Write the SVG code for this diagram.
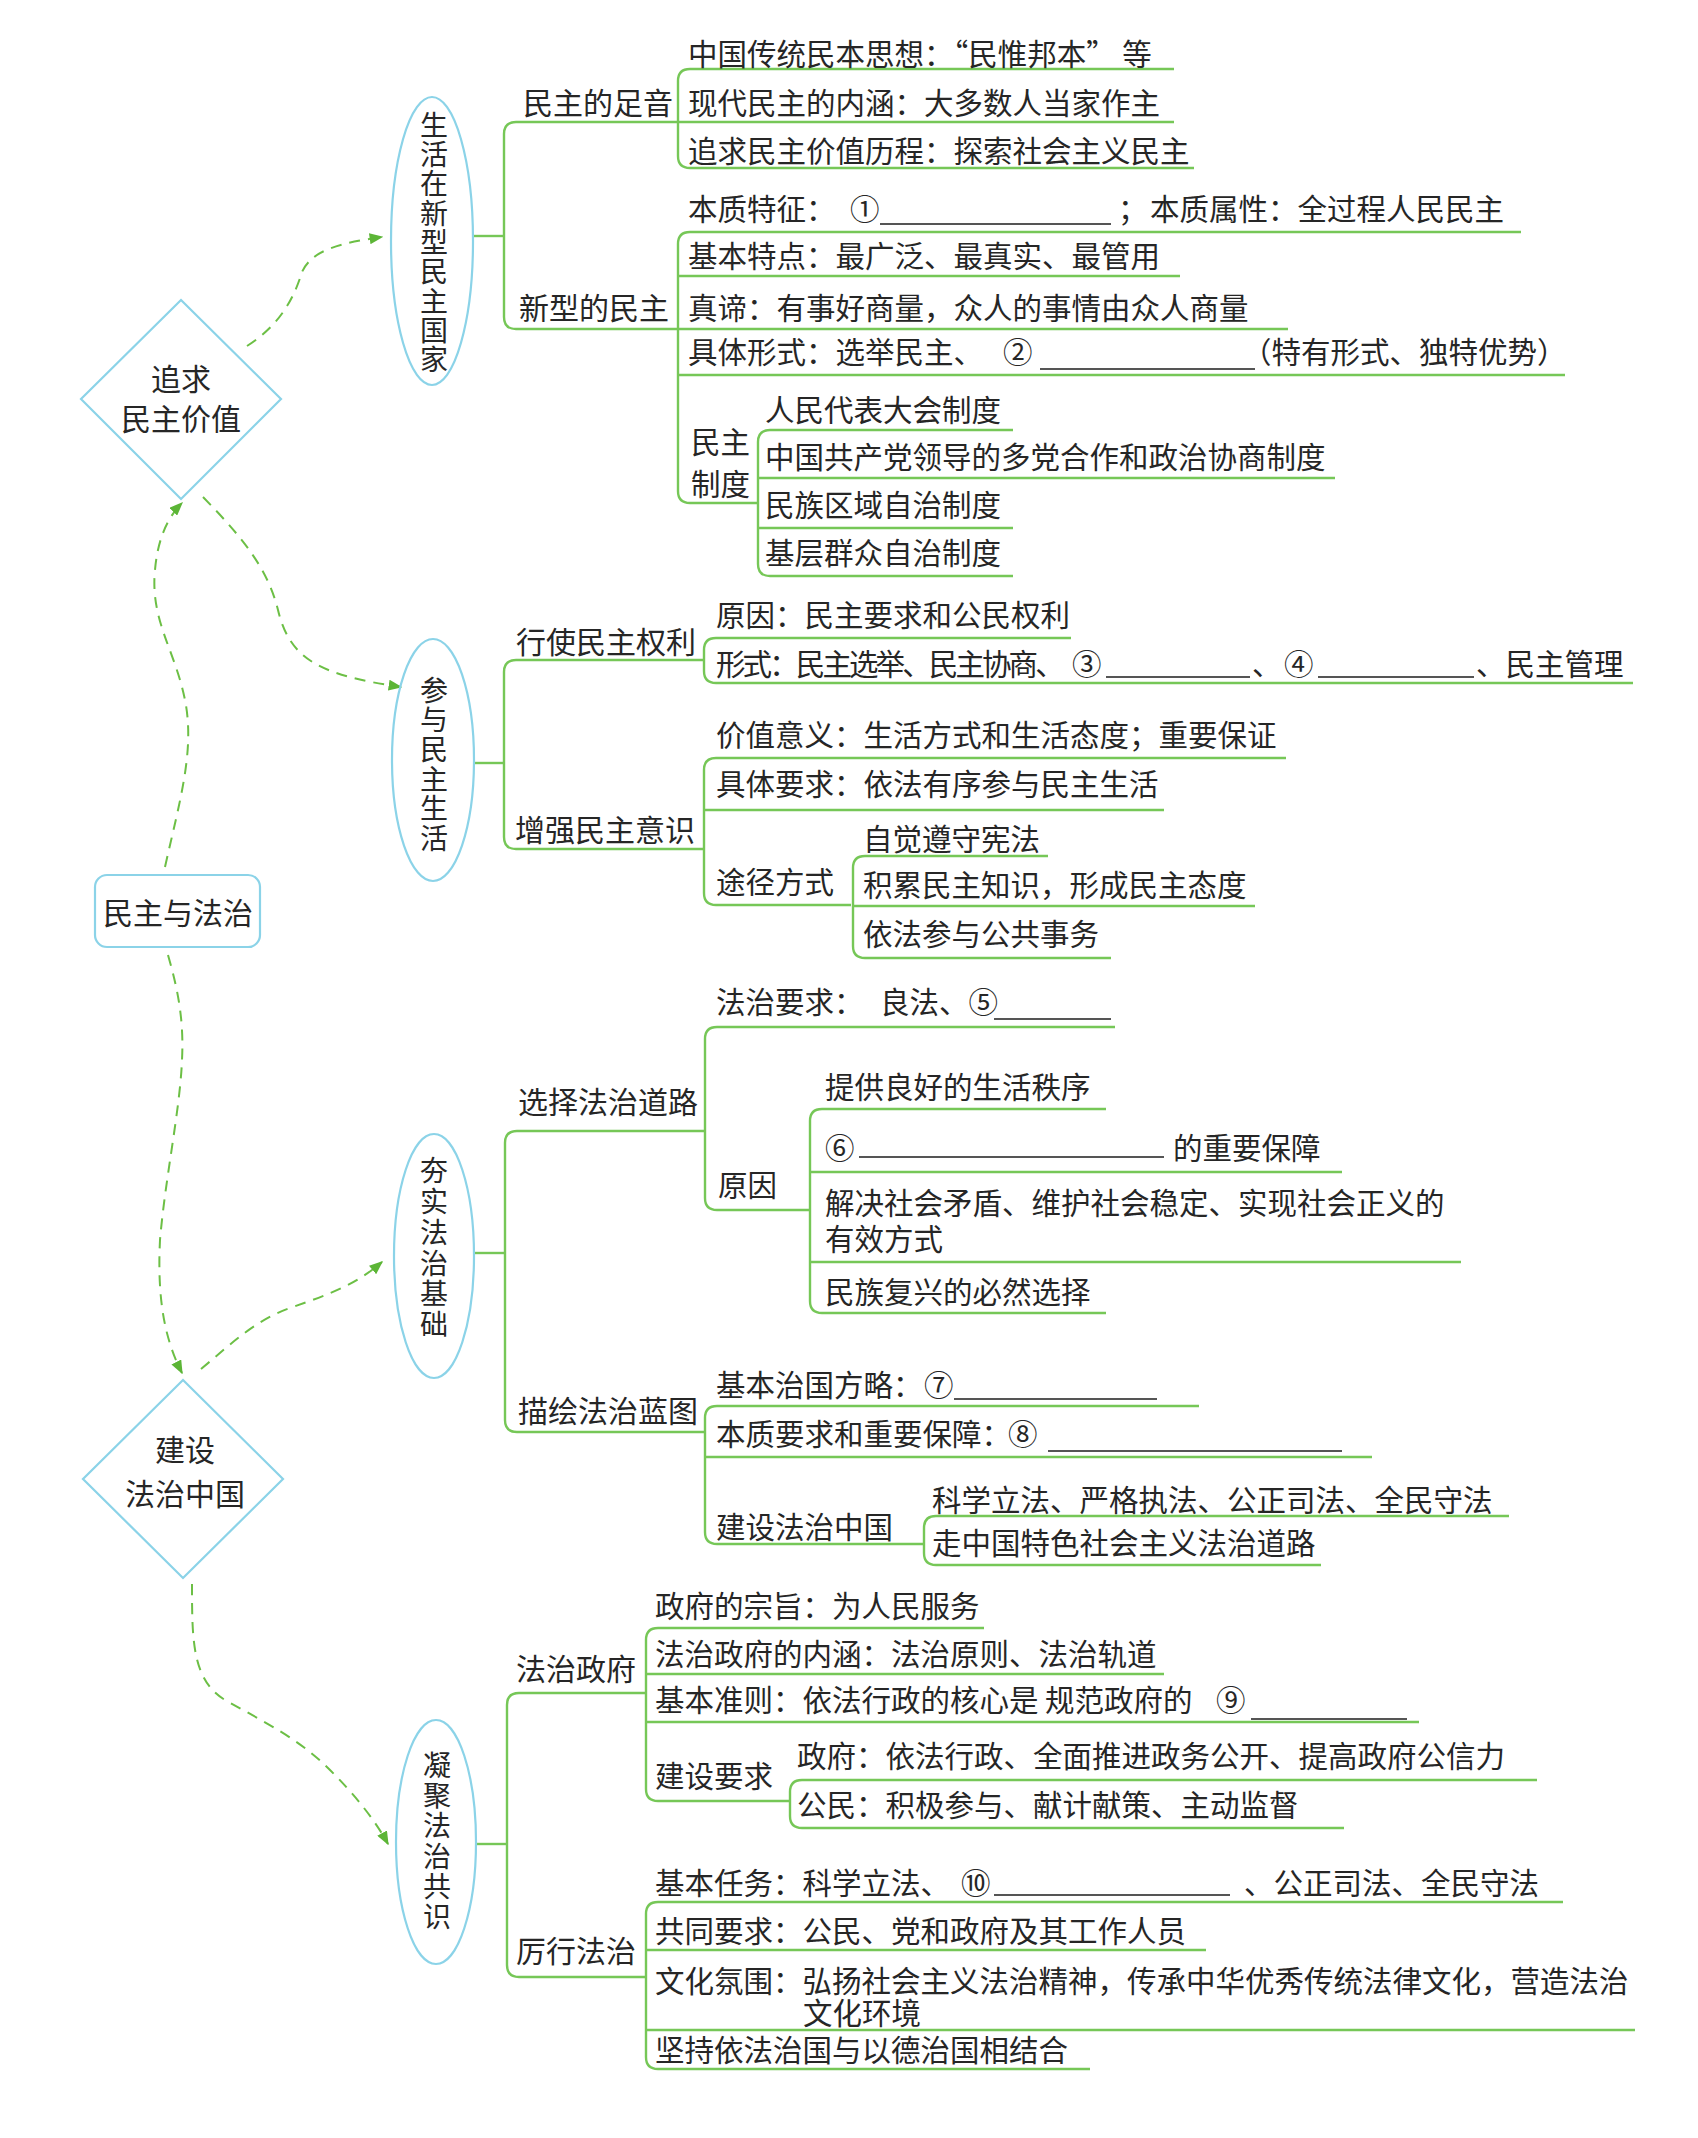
<svg xmlns="http://www.w3.org/2000/svg" width="1698" height="2138" viewBox="0 0 1698 2138">
<style>
text{font-family:"Noto Sans CJK SC","Noto Sans",sans-serif;font-size:29.5px;fill:#262626;dominant-baseline:central}
.lbl{font-size:30px}
.vt{font-size:28px;text-anchor:middle;writing-mode:vertical-rl}
.ct{text-anchor:middle;font-size:30px}
.br{fill:none;stroke:#76c757;stroke-width:2.4}
.shape{fill:none;stroke:#8bd3e8;stroke-width:2.2}
.blank{stroke:#555;stroke-width:2}
.dash{fill:none;stroke:#6cbf45;stroke-width:2;stroke-dasharray:11,8;marker-end:url(#arr)}
</style>
<defs>
<marker id="arr" viewBox="0 0 10 8" refX="9" refY="4" markerWidth="14" markerHeight="11" markerUnits="userSpaceOnUse" orient="auto">
<path d="M0,0 L10,4 L0,8 z" fill="#5cb536"/>
</marker>
</defs>
<rect width="1698" height="2138" fill="#ffffff"/>

<g id="connectors">
<path class="dash" d="M247,346 C275,328 292,305 302,272 C312,250 340,243 382,237"/>
<path class="dash" d="M203,497 C245,540 268,570 278,610 C290,660 320,675 401,687"/>
<path class="dash" d="M165,867 C180,800 195,750 185,700 C175,650 150,620 155,570 C158,535 170,515 182,503"/>
<path class="dash" d="M168,955 C178,990 184,1020 182,1060 C180,1110 165,1180 160,1240 C157,1300 165,1340 182,1373"/>
<path class="dash" d="M201,1369 C230,1345 255,1320 290,1308 C330,1294 355,1285 382,1262"/>
<path class="dash" d="M192,1584 C192,1640 192,1680 225,1700 C270,1725 300,1740 330,1770 C355,1795 375,1820 388,1844"/>
<path class="br" d="M473,236 H504"/>
<path class="br" d="M677,122 H516 Q504,122 504,134 V317 Q504,329 516,329 H678"/>
<path class="br" d="M1174,69 H690 Q678,69 678,81 V156 Q678,168 690,168 H1194 M678,122 H1174"/>
<path class="br" d="M1521,232 H690 Q678,232 678,244 V491 Q678,503 690,503 H758 M678,276 H1180 M678,329 H1288 M678,375 H1565"/>
<path class="br" d="M1013,430 H770 Q758,430 758,442 V564 Q758,576 770,576 H1013 M758,478 H1335 M758,528 H1013"/>
<path class="br" d="M474,763 H504"/>
<path class="br" d="M704,660 H516 Q504,660 504,672 V837 Q504,849 516,849 H704"/>
<path class="br" d="M1071,638 H716 Q704,638 704,650 V671 Q704,683 716,683 H1633"/>
<path class="br" d="M1286,758 H716 Q704,758 704,770 V893 Q704,905 716,905 H851 M704,810 H1164"/>
<path class="br" d="M1048,856 H865 Q853,856 853,868 V946 Q853,958 865,958 H1111 M853,906 H1255"/>
<path class="br" d="M474,1253 H505"/>
<path class="br" d="M705,1131 H517 Q505,1131 505,1143 V1420 Q505,1432 517,1432 H705"/>
<path class="br" d="M1115,1027 H717 Q705,1027 705,1039 V1198 Q705,1210 717,1210 H810"/>
<path class="br" d="M1106,1109 H822 Q810,1109 810,1121 V1301 Q810,1313 822,1313 H1106 M810,1172 H1342 M810,1262 H1461"/>
<path class="br" d="M1199,1406 H717 Q705,1406 705,1418 V1532 Q705,1544 717,1544 H924 M705,1457 H1372"/>
<path class="br" d="M1509,1516 H936 Q924,1516 924,1528 V1553 Q924,1565 936,1565 H1321"/>
<path class="br" d="M476,1844 H507"/>
<path class="br" d="M646,1693 H519 Q507,1693 507,1705 V1965 Q507,1977 519,1977 H646"/>
<path class="br" d="M984,1628 H658 Q646,1628 646,1640 V1789 Q646,1801 658,1801 H790 M646,1674 H1164 M646,1722 H1419"/>
<path class="br" d="M1537,1780 H802 Q790,1780 790,1792 V1816 Q790,1828 802,1828 H1344"/>
<path class="br" d="M1563,1902 H658 Q646,1902 646,1914 V2057 Q646,2069 658,2069 H1090 M646,1950 H1206 M646,2030 H1635"/>
</g>

<g id="root">
<rect class="shape" x="95" y="875" width="165" height="72" rx="12"/>
<text class="ct" x="178" y="911">民主与法治</text>
</g>

<g id="d1">
<polygon class="shape" points="181,300 281,399 181,499 81,399"/>
<text class="ct" x="181" y="377">追求</text>
<text class="ct" x="181" y="417">民主价值</text>
</g>

<g id="d2">
<polygon class="shape" points="183,1380 283,1479 183,1578 83,1479"/>
<text class="ct" x="185" y="1448">建设</text>
<text class="ct" x="185" y="1492">法治中国</text>
</g>

<g id="e1">
<ellipse class="shape" cx="432" cy="241" rx="41" ry="144"/>
<text class="vt" x="434" y="243" letter-spacing="1.3">生活在新型民主国家</text>
</g>

<g id="n-zuyin">
<text class="lbl" x="523" y="101">民主的足音</text>
<text x="688" y="52">中国传统民本思想：“民惟邦本” 等</text>
<text x="688" y="101">现代民主的内涵：大多数人当家作主</text>
<text x="688" y="149">追求民主价值历程：探索社会主义民主</text>
</g>

<g id="n-xinxing">
<text class="lbl" x="519" y="306">新型的民主</text>
<text x="688" y="207">本质特征：</text>
<text x="850" y="207">①</text>
<line class="blank" x1="880" y1="224" x2="1111" y2="224"/>
<text x="1118" y="207">；</text>
<text x="1150" y="207">本质属性：全过程人民民主</text>
<text x="688" y="254">基本特点：最广泛、最真实、最管用</text>
<text x="688" y="306">真谛：有事好商量，众人的事情由众人商量</text>
<text x="688" y="350">具体形式：选举民主、</text>
<text x="1003" y="350">②</text>
<line class="blank" x1="1040" y1="369" x2="1255" y2="369"/>
<text x="1242" y="350">（特有形式、独特优势）</text>
<text x="691" y="440">民主</text>
<text x="691" y="482">制度</text>
<text x="765" y="408">人民代表大会制度</text>
<text x="765" y="455">中国共产党领导的多党合作和政治协商制度</text>
<text x="765" y="503">民族区域自治制度</text>
<text x="765" y="551">基层群众自治制度</text>
</g>

<g id="e2">
<ellipse class="shape" cx="433" cy="760" rx="41" ry="121"/>
<text class="vt" x="434" y="765" letter-spacing="1.6">参与民主生活</text>
</g>

<g id="n-xingshi">
<text class="lbl" x="516" y="640">行使民主权利</text>
<text x="716" y="613">原因：民主要求和公民权利</text>
<text x="716" y="662" letter-spacing="-2.9">形式：民主选举、民主协商、</text>
<text x="1072" y="662">③</text>
<line class="blank" x1="1106" y1="677" x2="1250" y2="677"/>
<text x="1252" y="662">、</text>
<text x="1284" y="662">④</text>
<line class="blank" x1="1318" y1="677" x2="1474" y2="677"/>
<text x="1476" y="662">、民主管理</text>
</g>

<g id="n-zengqiang">
<text class="lbl" x="515" y="828">增强民主意识</text>
<text x="716" y="733">价值意义：生活方式和生活态度；重要保证</text>
<text x="716" y="782">具体要求：依法有序参与民主生活</text>
<text x="716" y="880">途径方式</text>
<text x="863" y="837">自觉遵守宪法</text>
<text x="863" y="883">积累民主知识，形成民主态度</text>
<text x="863" y="932">依法参与公共事务</text>
</g>

<g id="e3">
<ellipse class="shape" cx="434" cy="1256" rx="40" ry="122"/>
<text class="vt" x="434" y="1249" letter-spacing="2.8">夯实法治基础</text>
</g>

<g id="n-xuanze">
<text class="lbl" x="518" y="1100">选择法治道路</text>
<text x="716" y="1000">法治要求：</text>
<text x="880" y="1000">良法、⑤</text>
<line class="blank" x1="994" y1="1019" x2="1111" y2="1019"/>
<text x="718" y="1183">原因</text>
<text x="825" y="1085">提供良好的生活秩序</text>
<text x="825" y="1146">⑥</text>
<line class="blank" x1="859" y1="1157" x2="1164" y2="1157"/>
<text x="1173" y="1146">的重要保障</text>
<text x="825" y="1201">解决社会矛盾、维护社会稳定、实现社会正义的</text>
<text x="825" y="1237">有效方式</text>
<text x="825" y="1290">民族复兴的必然选择</text>
</g>

<g id="n-miaohui">
<text class="lbl" x="518" y="1409">描绘法治蓝图</text>
<text x="716" y="1383">基本治国方略：</text>
<text x="924" y="1383">⑦</text>
<line class="blank" x1="954" y1="1399" x2="1157" y2="1399"/>
<text x="716" y="1432">本质要求和重要保障：</text>
<text x="1008" y="1432">⑧</text>
<line class="blank" x1="1048" y1="1451" x2="1342" y2="1451"/>
<text x="716" y="1525">建设法治中国</text>
<text x="932" y="1498">科学立法、严格执法、公正司法、全民守法</text>
<text x="932" y="1541">走中国特色社会主义法治道路</text>
</g>

<g id="e4">
<ellipse class="shape" cx="436" cy="1842" rx="40" ry="122"/>
<text class="vt" x="437" y="1842" letter-spacing="2.2">凝聚法治共识</text>
</g>

<g id="n-zhengfu">
<text class="lbl" x="516" y="1667">法治政府</text>
<text x="655" y="1604">政府的宗旨：为人民服务</text>
<text x="655" y="1652">法治政府的内涵：法治原则、法治轨道</text>
<text x="655" y="1698">基本准则：依法行政的核心是 规范政府的</text>
<text x="1216" y="1698">⑨</text>
<line class="blank" x1="1251" y1="1719" x2="1407" y2="1719"/>
<text x="655" y="1774">建设要求</text>
<text x="797" y="1754">政府：依法行政、全面推进政务公开、提高政府公信力</text>
<text x="797" y="1803">公民：积极参与、献计献策、主动监督</text>
</g>

<g id="n-lixing">
<text class="lbl" x="516" y="1949">厉行法治</text>
<text x="655" y="1881">基本任务：科学立法、</text>
<text x="961" y="1881">⑩</text>
<line class="blank" x1="994" y1="1895" x2="1230" y2="1895"/>
<text x="1244" y="1881">、公正司法、全民守法</text>
<text x="655" y="1929">共同要求：公民、党和政府及其工作人员</text>
<text x="655" y="1979">文化氛围：弘扬社会主义法治精神，传承中华优秀传统法律文化，营造法治</text>
<text x="803" y="2011">文化环境</text>
<text x="655" y="2048">坚持依法治国与以德治国相结合</text>
</g>
</svg>
